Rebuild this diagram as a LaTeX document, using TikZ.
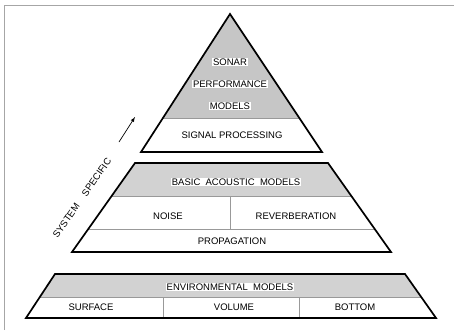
\documentclass[tikz,border=0pt]{standalone}
\usepackage{fontspec}
\setmainfont{Liberation Sans}
\usetikzlibrary{calc}

\begin{document}
\begin{tikzpicture}[x=1pt,y=-1pt,
                outline/.style={line width=1.7pt,line join=miter},
                divider/.style={line width=0.5pt,gray!80},
                band/.style={fill=gray!35},
                tag node/.style={inner sep=1pt,font=\fontsize{9.5}{11}\selectfont},
                boxed node/.style={tag node,fill=white}]
	\useasboundingbox (0,0) rectangle (454,330);
	\draw[gray!70,line width=0.8pt] (4,330) -- (4,5) -- (454,5);

	% top: sonar performance models
	\coordinate (apex) at (230,14);
	\coordinate (tl) at (141,152);
	\coordinate (tr) at (322,152);
	\coordinate (sl) at ($(apex)!0.7536!(tl)$);
	\coordinate (sr) at ($(apex)!0.7536!(tr)$);
	\fill[band,fill=gray!45] (apex) -- (sl) -- (sr) -- cycle;
	\draw[divider] (sl) -- (sr);
	\draw[outline] (apex) -- (tl) -- (tr) -- cycle;
	\node[boxed node] (sonar) at (230,62) {SONAR};
	\node[boxed node] (perf) at (230,84) {PERFORMANCE};
	\node[boxed node] (models) at (230,106) {MODELS};
	\node[tag node] (signal) at (232,135) {SIGNAL PROCESSING};

	% middle: basic acoustic models
	\coordinate (ml) at (135,163);
	\coordinate (mr) at (328,163);
	\coordinate (mbl) at (72,252);
	\coordinate (mbr) at (391,252);
	\coordinate (m1l) at ($(ml)!0.371!(mbl)$);
	\coordinate (m1r) at ($(mr)!0.371!(mbr)$);
	\coordinate (m2l) at ($(ml)!0.7416!(mbl)$);
	\coordinate (m2r) at ($(mr)!0.7416!(mbr)$);
	\fill[band] (ml) -- (mr) -- (m1r) -- (m1l) -- cycle;
	\draw[divider] (m1l) -- (m1r);
	\draw[divider] (m2l) -- (m2r);
	\draw[divider] (230,196) -- (230,229);
	\draw[outline] (ml) -- (mr) -- (mbr) -- (mbl) -- cycle;
	\node[boxed node] (basic) at (236,182) {BASIC\ \ ACOUSTIC\ \ MODELS};
	\node[tag node] (noise) at (168,216) {NOISE};
	\node[tag node] (reverb) at (296,216) {REVERBERATION};
	\node[tag node] (prop) at (232,241) {PROPAGATION};

	% bottom: environmental models
	\coordinate (bl) at (55,274);
	\coordinate (br) at (405,274);
	\coordinate (bbl) at (26,318);
	\coordinate (bbr) at (436,318);
	\coordinate (b1l) at ($(bl)!0.5227!(bbl)$);
	\coordinate (b1r) at ($(br)!0.5227!(bbr)$);
	\fill[band] (bl) -- (br) -- (b1r) -- (b1l) -- cycle;
	\draw[divider] (b1l) -- (b1r);
	\draw[divider] (163,297) -- (163,318);
	\draw[divider] (299,297) -- (299,318);
	\draw[outline] (bl) -- (br) -- (bbr) -- (bbl) -- cycle;
	\node[boxed node] (env) at (230,287) {ENVIRONMENTAL\ \ MODELS};
	\node[tag node] (surface) at (91,307) {SURFACE};
	\node[tag node] (volume) at (234,307) {VOLUME};
	\node[tag node] (bottom) at (355,307) {BOTTOM};

	% side label
	\node[tag node,rotate=55] (system) at (82,198) {SYSTEM\hspace{1.2em}SPECIFIC};
	\coordinate (arrow start) at (119,142);
	\coordinate (arrow end) at (135,117);
	\draw[-latex,line width=0.7pt] (arrow start) -- (arrow end);
\end{tikzpicture}
\end{document}
